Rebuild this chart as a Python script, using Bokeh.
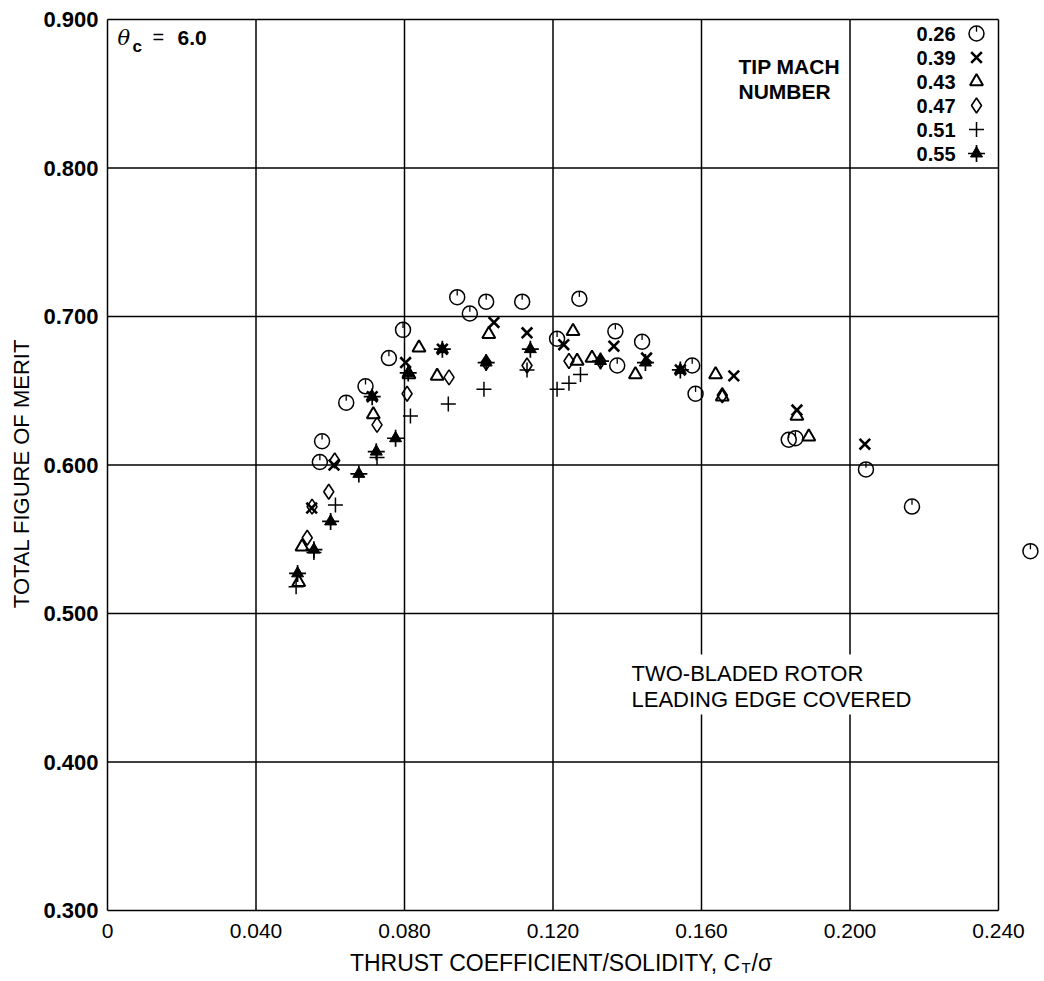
import math
from bokeh.plotting import figure
from bokeh.models import Label, Range1d, BoxAnnotation
from bokeh.core.properties import value
from bokeh.embed import file_html
from bokeh.resources import INLINE

# ---------------- data ----------------
tip_mach = ["0.26", "0.39", "0.43", "0.47", "0.51", "0.55"]

m026_x = [0.0572, 0.0578, 0.0643, 0.0695, 0.0758, 0.0796, 0.0942, 0.0976, 0.1020, 0.1117, 0.1211,
          0.1271, 0.1368, 0.1373, 0.1440, 0.1575, 0.1584, 0.1835, 0.1853, 0.2043, 0.2167, 0.2486]
m026_y = [0.602, 0.616, 0.642, 0.653, 0.672, 0.691, 0.713, 0.702, 0.710, 0.710, 0.685,
          0.712, 0.690, 0.667, 0.683, 0.667, 0.648, 0.617, 0.618, 0.597, 0.572, 0.542]

m039_x = [0.0550, 0.0610, 0.0713, 0.0803, 0.0902, 0.1041, 0.1130, 0.1229, 0.1364, 0.1452,
          0.1543, 0.1687, 0.1857, 0.2040]
m039_y = [0.571, 0.600, 0.646, 0.669, 0.678, 0.696, 0.689, 0.681, 0.680, 0.672,
          0.664, 0.660, 0.637, 0.614]

m043_x = [0.0515, 0.0524, 0.0716, 0.0812, 0.0839, 0.0888, 0.1027, 0.1254, 0.1265, 0.1305,
          0.1422, 0.1638, 0.1656, 0.1857, 0.1889]
m043_y = [0.521, 0.545, 0.634, 0.661, 0.679, 0.660, 0.688, 0.690, 0.670, 0.672,
          0.661, 0.661, 0.646, 0.633, 0.619]

m047_x = [0.0538, 0.0551, 0.0596, 0.0612, 0.0726, 0.0807, 0.0920, 0.1020, 0.1130, 0.1243,
          0.1328, 0.1656]
m047_y = [0.551, 0.572, 0.582, 0.603, 0.627, 0.648, 0.659, 0.669, 0.667, 0.670,
          0.670, 0.647]

m051_x = [0.0508, 0.0556, 0.0614, 0.0726, 0.0816, 0.0918, 0.1014, 0.1130, 0.1211, 0.1243, 0.1274]
m051_y = [0.518, 0.541, 0.573, 0.605, 0.633, 0.641, 0.651, 0.664, 0.651, 0.655, 0.661]

m055_x = [0.0512, 0.0556, 0.0601, 0.0677, 0.0724, 0.0776, 0.0713, 0.0810, 0.0902, 0.1020,
          0.1139, 0.1328, 0.1449, 0.1543]
m055_y = [0.527, 0.543, 0.562, 0.594, 0.609, 0.618, 0.646, 0.662, 0.678, 0.669,
          0.678, 0.670, 0.669, 0.664]

x_ticks = [0, 0.04, 0.08, 0.12, 0.16, 0.20, 0.24]
x_tick_labels = ["0", "0.040", "0.080", "0.120", "0.160", "0.200", "0.240"]
y_ticks = [0.3, 0.4, 0.5, 0.6, 0.7, 0.8, 0.9]
y_tick_labels = ["0.300", "0.400", "0.500", "0.600", "0.700", "0.800", "0.900"]

# ---------------- layout ----------------
# The frame fills the whole canvas; the ruled box (0..0.24, 0.3..0.9) sits inside it.
W, H = 1040, 978
BOX_L, BOX_R, BOX_T, BOX_B = 107, 998, 19, 910      # pixel edges of the ruled box
XMIN, XMAX, YMIN, YMAX = 0.0, 0.24, 0.3, 0.9
X_PX = (BOX_R - BOX_L) / (XMAX - XMIN)
Y_PX = (BOX_B - BOX_T) / (YMAX - YMIN)
x_start = XMIN - BOX_L / X_PX
x_end = XMIN + (W - BOX_L) / X_PX
y_start = YMIN - (H - BOX_B) / Y_PX
y_end = YMAX + BOX_T / Y_PX


def px2x(px):
    return XMIN + (px - BOX_L) / X_PX


def py2y(py):
    return YMIN + (BOX_B - py) / Y_PX


p = figure(width=W, height=H, x_range=Range1d(x_start, x_end), y_range=Range1d(y_start, y_end),
           output_backend="svg", toolbar_location=None,
           x_axis_location=None, y_axis_location=None, min_border=0)
p.min_border_left = p.min_border_right = p.min_border_top = p.min_border_bottom = 0
p.outline_line_color = None
p.background_fill_color = "white"
p.border_fill_color = "white"
p.xgrid.visible = False
p.ygrid.visible = False

# ruled box and grid lines
p.segment(x0=x_ticks, y0=[YMIN] * len(x_ticks), x1=x_ticks, y1=[YMAX] * len(x_ticks),
          line_color="black", line_width=1.5)
p.segment(x0=[XMIN] * len(y_ticks), y0=y_ticks, x1=[XMAX] * len(y_ticks), y1=y_ticks,
          line_color="black", line_width=1.5)

# tick labels, placed through the data scales
p.text(x=x_ticks, y=[py2y(930)] * len(x_ticks), text=x_tick_labels,
       text_font=value("Liberation Sans"), text_font_size="21px", text_align="center",
       text_baseline="middle", text_color="black")
p.text(x=[px2x(98)] * len(y_ticks), y=y_ticks, text=y_tick_labels,
       text_font=value("Liberation Sans"), text_font_size="22px", text_font_style="bold",
       text_align="right", text_baseline="middle", text_color="black")

TICK_TOP = 7.0 / Y_PX
TICK_BOT = 1.8 / Y_PX


def draw(kind, xs, ys):
    if kind == "0.26":
        p.scatter(xs, ys, marker="circle", size=15, fill_color=None, line_color="black", line_width=1.5)
        p.segment(x0=xs, y0=[y + TICK_TOP for y in ys], x1=xs, y1=[y + TICK_BOT for y in ys],
                  line_color="black", line_width=1.3)
    elif kind == "0.39":
        p.scatter(xs, ys, marker="x", size=15, line_color="black", line_width=2.6)
    elif kind == "0.43":
        p.scatter(xs, ys, marker="triangle", size=13, fill_color=None, line_color="black", line_width=2)
    elif kind == "0.47":
        p.scatter(xs, ys, marker="diamond", size=15, fill_color=None, line_color="black", line_width=1.6)
    elif kind == "0.51":
        p.scatter(xs, ys, marker="cross", size=15, line_color="black", line_width=1.5)
    elif kind == "0.55":
        p.scatter(xs, ys, marker="triangle", size=12, fill_color="black", line_color="black", line_width=1)
        p.scatter(xs, ys, marker="cross", size=17, line_color="black", line_width=1.7)


series = {"0.26": (m026_x, m026_y), "0.39": (m039_x, m039_y), "0.43": (m043_x, m043_y),
          "0.47": (m047_x, m047_y), "0.51": (m051_x, m051_y), "0.55": (m055_x, m055_y)}
for k in tip_mach:
    draw(k, *series[k])


def text(txt, px, py, size, style="normal", font="Liberation Sans", align="left", angle=0.0):
    # (px, py): left/right/centre edge and vertical centre of the text, in picture pixels
    p.add_layout(Label(x=px2x(px), y=py2y(py), text=txt, text_font=font,
                       text_font_size=f"{size}px", text_font_style=style, text_align=align,
                       text_baseline="middle", angle=angle, text_color="black"))


# legend (labels left of the symbols, no box)
for i, k in enumerate(tip_mach):
    mid = 33 + 24 * i
    text(k, 955, mid, 20, style="bold", align="right")
    draw(k, [px2x(976)], [py2y(mid)])

# white patch behind the lower note
p.add_layout(BoxAnnotation(left=px2x(624), right=px2x(931), top=py2y(654), bottom=py2y(714),
                           fill_color="white", fill_alpha=1.0, line_color=None))

text("TIP MACH", 738, 65.5, 21, style="bold")
text("NUMBER", 738, 90.5, 21, style="bold")
text("TWO-BLADED ROTOR", 631, 672.5, 22)
text("LEADING EDGE COVERED", 631, 699, 22)

# theta_c = 6.0
text("\u03b8", 117, 37.5, 21, style="italic", font="DejaVu Serif")
text("c", 132, 45.5, 17, style="bold")
text("=", 152, 36, 20)
text("6.0", 177, 37.5, 21, style="bold")

# axis titles
text("TOTAL FIGURE OF MERIT", 21, 473, 22, align="center", angle=math.pi / 2)
text("THRUST COEFFICIENT/SOLIDITY, C", 740, 962, 23, align="right")
text("T", 741, 967, 15)
text("/\u03c3", 751, 962, 23)

open("out.html", "w").write(file_html(p, INLINE))
